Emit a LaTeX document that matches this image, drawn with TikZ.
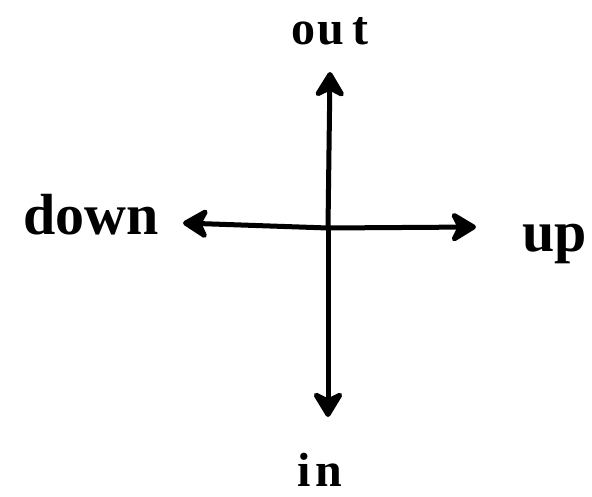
\documentclass[tikz,border=0pt]{standalone}
\usepackage{fontspec}
\setmainfont{Liberation Serif}
\usetikzlibrary{arrows.meta}

\begin{document}
\begin{tikzpicture}[x=1pt,y=-1pt,
  axis/.style={draw=black,line width=5pt,line join=round,
    -{Stealth[length=30pt,width=36pt,inset=9pt,round]}},
  wideword/.style={font=\bfseries\fontsize{58}{62}\selectfont,inner sep=0pt,anchor=base},
  tallword/.style={font=\bfseries\fontsize{48}{52}\selectfont,inner sep=0pt,anchor=base},
]
\useasboundingbox (0,0) rectangle (592,497);
% crossing point and arrow tips
\coordinate (centre) at (328,228);
\coordinate (outtip) at (330,72);
\coordinate (intip) at (328,417);
\coordinate (downtip) at (183,223);
\coordinate (uptip) at (476,227);
\draw[axis] (centre) -- (outtip);
\draw[axis] (centre) -- (intip);
\draw[axis] (centre) -- (downtip);
\draw[axis] (centre) -- (uptip);
% labels
\node[tallword] (out) at (330,45) {o\kern2ptu\kern9ptt};
\node[tallword] (in) at (320,486) {i\kern4ptn};
\node[wideword] (down) at (91,235) {down};
\node[wideword] (up) at (555,252) {up};
\end{tikzpicture}
\end{document}
